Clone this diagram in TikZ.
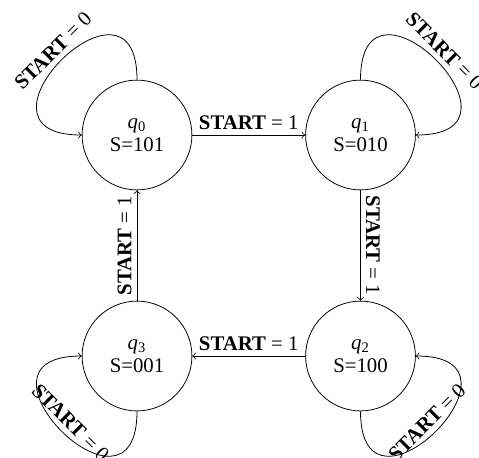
\documentclass[tikz,border=0pt]{standalone}
\usepackage{fontspec}
\setmainfont{Liberation Serif}
\begin{document}
\begin{tikzpicture}[x=0.51pt,y=-0.51pt,
  stat/.style={draw,circle,minimum size=56pt,inner sep=0pt,align=center,font=\fontsize{10.6}{12}\selectfont},
  lbl/.style={sloped,above,inner sep=2.6pt,font=\fontsize{10.6}{12}\selectfont},
  tr/.style={->,thin}]
\useasboundingbox (0,0) rectangle (479,457);
\node[stat] (q0) at (137,135) {\textit{q}\textsubscript{0}\\S=101};
\node[stat] (q1) at (360.5,135) {\textit{q}\textsubscript{1}\\S=010};
\node[stat] (q2) at (360.5,356) {\textit{q}\textsubscript{2}\\S=100};
\node[stat] (q3) at (137,356) {\textit{q}\textsubscript{3}\\S=001};
\draw[tr] (q0) -- node[lbl]{\textbf{START} = 1} (q1);
\draw[tr] (q1) -- node[lbl]{\textbf{START} = 1} (q2);
\draw[tr] (q2) -- node[lbl]{\textbf{START} = 1} (q3);
\draw[tr] (q3) -- node[lbl]{\textbf{START} = 1} (q0);
\draw[tr] (q0.north) .. controls +(0,-127) and +(-127,0) .. node[lbl]{\textbf{START} = 0} (q0.west);
\draw[tr] (q1.north) .. controls +(0,-127) and +(127,0) .. node[lbl]{\textbf{START} = 0} (q1.east);
\draw[tr] (q2.south) .. controls +(0,127) and +(127,0) .. node[lbl]{\textbf{START} = 0} (q2.east);
\draw[tr] (q3.south) .. controls +(0,127) and +(-127,0) .. node[lbl]{\textbf{START} = 0} (q3.west);
\end{tikzpicture}
\end{document}
